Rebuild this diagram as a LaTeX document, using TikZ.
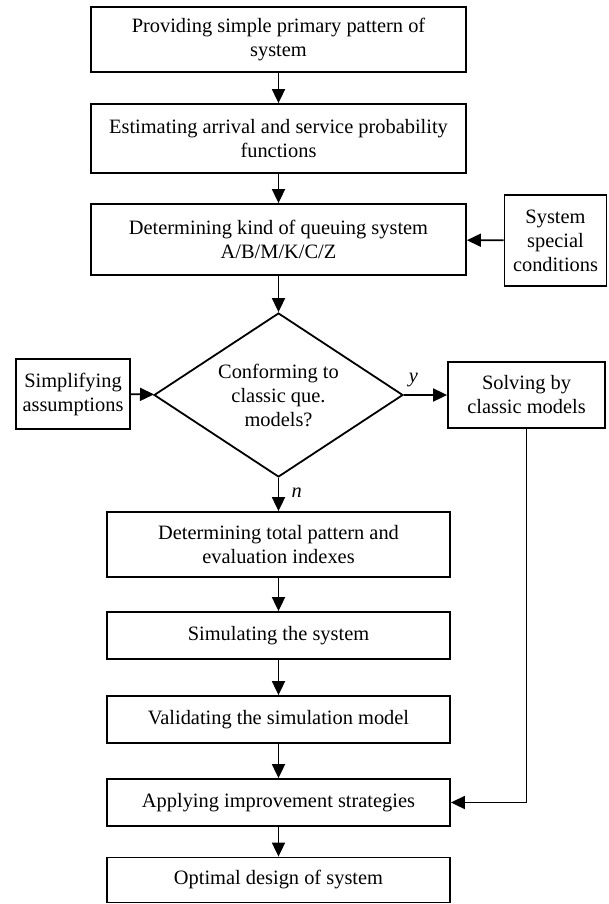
\documentclass[tikz,border=0pt]{standalone}
\usepackage{fontspec}
\setmainfont{Liberation Serif}
\usetikzlibrary{arrows.meta,positioning,shapes.geometric}

\begin{document}
\begin{tikzpicture}[x=1pt,y=-1pt,font=\fontsize{20.4}{24}\selectfont,
block/.style={draw, line width=1.8pt, align=center, inner sep=0pt},
wide/.style={block, minimum width=375pt},
narrow/.style={block, minimum width=343pt},
decision/.style={diamond, draw, line width=1.8pt, align=center, inner sep=0pt, aspect=1.52, minimum width=249pt, minimum height=164pt},
arr/.style={line width=1.8pt, -{Triangle[length=14pt,width=13pt]}}]

\useasboundingbox (0,0) rectangle (608,904);

% main column
\node[wide, minimum height=65pt] at (278.5,39.5) (provide) {Providing simple primary pattern of\\ system};
\node[wide, minimum height=69pt] at (278.5,138.5) (estimate) {Estimating arrival and service probability\\ functions};
\node[wide, minimum height=71pt] at (278.5,239.5) (kind) {Determining kind of queuing system\\ A/B/M/K/C/Z};
\node[decision] at (278.5,395) (conform) {Conforming to\\ classic que.\\ models?};
\node[narrow, minimum height=65pt] at (278.5,544.5) (total) {Determining total pattern and\\ evaluation indexes};
\node[narrow, minimum height=47pt] at (278.5,635.5) (simulate) {Simulating the system};
\node[narrow, minimum height=47pt] at (278.5,719.5) (validate) {Validating the simulation model};
\node[narrow, minimum height=47pt] at (278.5,802.5) (improve) {Applying improvement strategies};
\node[narrow, minimum height=45pt] at (278.5,880) (optimal) {Optimal design of system};

% side boxes
\node[block, minimum width=102pt, minimum height=91pt] at (555.5,240.5) (special) {System\\ special\\ conditions};
\node[block, minimum width=114pt, minimum height=70pt] at (73,394) (assume) {Simplifying\\ assumptions};
\node[block, minimum width=157pt, minimum height=66pt] at (526.5,395) (classic) {Solving by\\ classic models};

\draw[arr] (provide)--(estimate);
\draw[arr] (estimate)--(kind);
\draw[arr] (kind)--(conform);
\draw[arr] (conform)--(total) node[pos=0.45, right=9pt] {\itshape n};
\draw[arr] (total)--(simulate);
\draw[arr] (simulate)--(validate);
\draw[arr] (validate)--(improve);
\draw[arr] (improve)--(optimal);
\draw[arr] (special)--(kind);
\draw[arr] (assume)--(conform);
\draw[arr] (conform)--(classic) node[pos=0.22, above=4pt] {\itshape y};
\draw[arr] (classic.south) |- (improve.east);
%
\end{tikzpicture}
\end{document}
